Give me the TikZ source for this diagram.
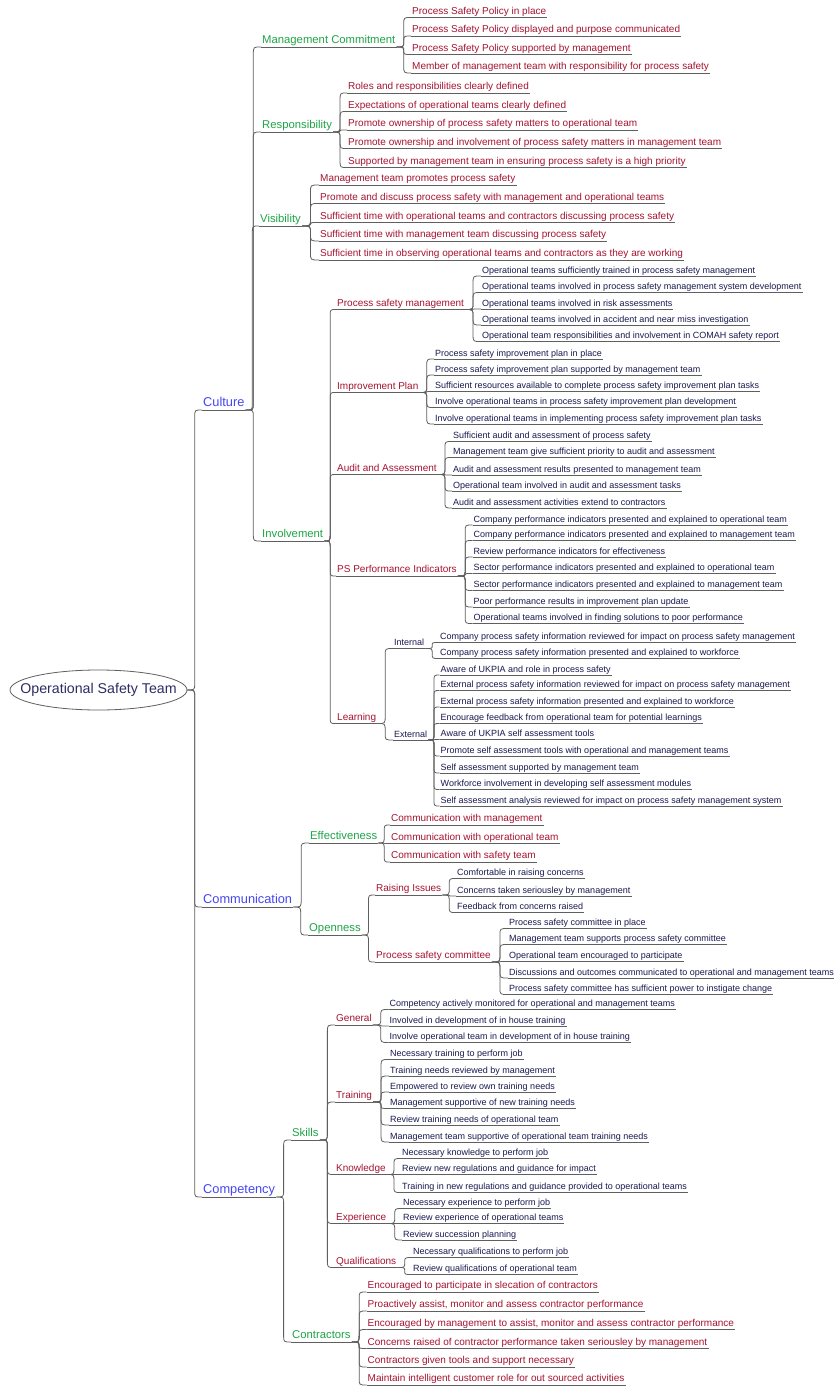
\documentclass[tikz,border=0pt]{standalone}
\usepackage{fontspec}
\setmainfont{Liberation Sans}
\usetikzlibrary{calc,shapes.geometric}
\definecolor{cRoot}{RGB}{45,45,100}
\definecolor{cOne}{RGB}{70,70,240}
\definecolor{cTwo}{RGB}{30,165,70}
\definecolor{cThree}{RGB}{165,20,50}
\definecolor{cFour}{RGB}{25,25,80}
\definecolor{cEdge}{RGB}{95,95,95}
\tikzset{
  edgeline/.style={draw=cEdge, line width=0.8pt},
  ulline/.style={draw=cEdge, line width=0.8pt},
  nbase/.style={anchor=south west, inner xsep=1pt, inner ysep=1pt},
  lone/.style={nbase, font=\fontsize{12.8pt}{15pt}\selectfont, text=cOne, text depth=2.6pt},
  ltwo/.style={nbase, font=\fontsize{11.3pt}{13pt}\selectfont, text=cTwo, text depth=2.3pt},
  lthree/.style={nbase, font=\fontsize{10pt}{12pt}\selectfont, text=cThree, text depth=2pt},
  lfour/.style={nbase, font=\fontsize{9pt}{11pt}\selectfont, text=cFour, text depth=1.8pt},
  rootnode/.style={ellipse, draw=cEdge, line width=0.8pt, minimum width=177pt, minimum height=40pt, inner xsep=-40pt, inner ysep=-10pt, font=\fontsize{14.2pt}{16pt}\selectfont, text=cRoot}
}
\newcommand\nd[4]{\node[#2] (#1) at (#3) {#4}; \draw[ulline] (#1.south west) -- (#1.south east);}
\newcommand\conn[3][south east]{%
  \draw[edgeline] let \p1=(#2.#1), \p2=(#3.south west),
     \n1={(\x1+\x2)/2}, \n2={min(7,abs(\y2-\y1)/2)*sign(\y2-\y1)} in
     (\p1) .. controls ({\n1*1pt},\y1) .. ({\n1*1pt},{\y1+\n2*1pt}) -- ({\n1*1pt},{\y2-\n2*1pt}) .. controls ({\n1*1pt},\y2) .. (\p2);}
\begin{document}
\begin{tikzpicture}[x=1pt,y=-1pt]
\useasboundingbox (0,0) rectangle (834,1388);
\fill[white] (0,0) rectangle (834,1388);
% root
\node[rootnode] (root) at (98.5,690) {Operational Safety Team};
% level 1
\nd{cul}{lone}{202,410}{Culture}
\nd{com}{lone}{202,907}{Communication}
\nd{cmp}{lone}{202,1197}{Competency}
% Culture
\nd{mgc}{ltwo}{261,47}{Management Commitment}
\nd{rsp}{ltwo}{261,132}{Responsibility}
\nd{vis}{ltwo}{259,226}{Visibility}
\nd{inv}{ltwo}{261,541}{Involvement}
\nd{mgcA}{lthree}{411,17.5}{Process Safety Policy in place}
\nd{mgcB}{lthree}{411,36}{Process Safety Policy displayed and purpose communicated}
\nd{mgcC}{lthree}{411,54.5}{Process Safety Policy supported by management}
\nd{mgcD}{lthree}{411,73}{Member of management team with responsibility for process safety}
\nd{rspA}{lthree}{347,93}{Roles and responsibilities clearly defined}
\nd{rspB}{lthree}{347,111.5}{Expectations of operational teams clearly defined}
\nd{rspC}{lthree}{347,130}{Promote ownership of process safety matters to operational team}
\nd{rspD}{lthree}{347,148.5}{Promote ownership and involvement of process safety matters in management team}
\nd{rspE}{lthree}{347,167.5}{Supported by management team in ensuring process safety is a high priority}
\nd{visA}{lthree}{319,185}{Management team promotes process safety}
\nd{visB}{lthree}{319,203.5}{Promote and discuss process safety with management and operational teams}
\nd{visC}{lthree}{319,222.5}{Sufficient time with operational teams and contractors discussing process safety}
\nd{visD}{lthree}{319,241}{Sufficient time with management team discussing process safety}
\nd{visE}{lthree}{319,260}{Sufficient time in observing operational teams and contractors as they are working}
% Involvement
\nd{psm}{lthree}{336,309.5}{Process safety management}
\nd{imp}{lthree}{336,392.5}{Improvement Plan}
\nd{aud}{lthree}{336,474.5}{Audit and Assessment}
\nd{ppi}{lthree}{336,576}{PS Performance Indicators}
\nd{lrn}{lthree}{336,723.5}{Learning}
\nd{psmA}{lfour}{481,276}{Operational teams sufficiently trained in process safety management}
\nd{psmB}{lfour}{481,292.5}{Operational teams involved in process safety management system development}
\nd{psmC}{lfour}{481,309}{Operational teams involved in risk assessments}
\nd{psmD}{lfour}{481,325}{Operational teams involved in accident and near miss investigation}
\nd{psmE}{lfour}{481,341.5}{Operational team responsibilities and involvement in COMAH safety report}
\nd{impA}{lfour}{434,359}{Process safety improvement plan in place}
\nd{impB}{lfour}{434,375}{Process safety improvement plan supported by management team}
\nd{impC}{lfour}{434,391.5}{Sufficient resources available to complete process safety improvement plan tasks}
\nd{impD}{lfour}{434,407.5}{Involve operational teams in process safety improvement plan development}
\nd{impE}{lfour}{434,424}{Involve operational teams in implementing process safety improvement plan tasks}
\nd{audA}{lfour}{452,441.5}{Sufficient audit and assessment of process safety}
\nd{audB}{lfour}{452,457.5}{Management team give sufficient priority to audit and assessment}
\nd{audC}{lfour}{452,475}{Audit and assessment results presented to management team}
\nd{audD}{lfour}{452,491}{Operational team involved in audit and assessment tasks}
\nd{audE}{lfour}{452,508}{Audit and assessment activities extend to contractors}
\nd{ppiA}{lfour}{472.5,525}{Company performance indicators presented and explained to operational team}
\nd{ppiB}{lfour}{472.5,540.5}{Company performance indicators presented and explained to management team}
\nd{ppiC}{lfour}{472.5,557}{Review performance indicators for effectiveness}
\nd{ppiD}{lfour}{472.5,573.5}{Sector performance indicators presented and explained to operational team}
\nd{ppiE}{lfour}{472.5,590.5}{Sector performance indicators presented and explained to management team}
\nd{ppiF}{lfour}{472.5,607}{Poor performance results in improvement plan update}
\nd{ppiG}{lfour}{472.5,623.5}{Operational teams involved in finding solutions to poor performance}
\nd{int}{lfour}{393,648.5}{Internal}
\nd{ext}{lfour}{393,740}{External}
\nd{intA}{lfour}{439,642.5}{Company process safety information reviewed for impact on process safety management}
\nd{intB}{lfour}{439,658.5}{Company process safety information presented and explained to workforce}
\nd{extA}{lfour}{439.5,675}{Aware of UKPIA and role in process safety}
\nd{extB}{lfour}{439.5,690.5}{External process safety information reviewed for impact on process safety management}
\nd{extC}{lfour}{439.5,707}{External process safety information presented and explained to workforce}
\nd{extD}{lfour}{439.5,723.5}{Encourage feedback from operational team for potential learnings}
\nd{extE}{lfour}{439.5,739.5}{Aware of UKPIA self assessment tools}
\nd{extF}{lfour}{439.5,756}{Promote self assessment tools with operational and management teams}
\nd{extG}{lfour}{439.5,773}{Self assessment supported by management team}
\nd{extH}{lfour}{439.5,789.5}{Workforce involvement in developing self assessment modules}
\nd{extI}{lfour}{439.5,806}{Self assessment analysis reviewed for impact on process safety management system}
% Communication
\nd{eff}{ltwo}{309,843}{Effectiveness}
\nd{opn}{ltwo}{308,935}{Openness}
\nd{effA}{lthree}{390,825}{Communication with management}
\nd{effB}{lthree}{390,843.5}{Communication with operational team}
\nd{effC}{lthree}{390,862}{Communication with safety team}
\nd{rai}{lthree}{375,895}{Raising Issues}
\nd{psc}{lthree}{375,962}{Process safety committee}
\nd{raiA}{lfour}{456,878.5}{Comfortable in raising concerns}
\nd{raiB}{lfour}{456,896}{Concerns taken seriousley by management}
\nd{raiC}{lfour}{456,912.5}{Feedback from concerns raised}
\nd{pscA}{lfour}{508,928.5}{Process safety committee in place}
\nd{pscB}{lfour}{508,944.5}{Management team supports process safety committee}
\nd{pscC}{lfour}{508,961.5}{Operational team encouraged to participate}
\nd{pscD}{lfour}{508,978}{Discussions and outcomes communicated to operational and management teams}
\nd{pscE}{lfour}{508,994.5}{Process safety committee has sufficient power to instigate change}
% Competency
\nd{skl}{ltwo}{291,1140}{Skills}
\nd{ctr}{ltwo}{291,1342}{Contractors}
\nd{gen}{lthree}{335,1025}{General}
\nd{trn}{lthree}{335,1102}{Training}
\nd{knw}{lthree}{335,1174.5}{Knowledge}
\nd{exp}{lthree}{335,1223.5}{Experience}
\nd{qua}{lthree}{335,1267.5}{Qualifications}
\nd{genA}{lfour}{388.5,1009.5}{Competency actively monitored for operational and management teams}
\nd{genB}{lfour}{388.5,1026}{Involved in development of in house training}
\nd{genC}{lfour}{388.5,1042.5}{Involve operational team in development of in house training}
\nd{trnA}{lfour}{389,1059.5}{Necessary training to perform job}
\nd{trnB}{lfour}{389,1076}{Training needs reviewed by management}
\nd{trnC}{lfour}{389,1092}{Empowered to review own training needs}
\nd{trnD}{lfour}{389,1108.5}{Management supportive of new training needs}
\nd{trnE}{lfour}{389,1125}{Review training needs of operational team}
\nd{trnF}{lfour}{389,1142}{Management team supportive of operational team training needs}
\nd{knwA}{lfour}{401,1158.5}{Necessary knowledge to perform job}
\nd{knwB}{lfour}{401,1174.5}{Review new regulations and guidance for impact}
\nd{knwC}{lfour}{401,1192.5}{Training in new regulations and guidance provided to operational teams}
\nd{expA}{lfour}{402,1208.5}{Necessary experience to perform job}
\nd{expB}{lfour}{402,1223.5}{Review experience of operational teams}
\nd{expC}{lfour}{402,1240}{Review succession planning}
\nd{quaA}{lfour}{412,1257.5}{Necessary qualifications to perform job}
\nd{quaB}{lfour}{412,1274.5}{Review qualifications of operational team}
\nd{ctrA}{lthree}{366.5,1292}{Encouraged to participate in slecation of contractors}
\nd{ctrB}{lthree}{366.5,1311}{Proactively assist, monitor and assess contractor performance}
\nd{ctrC}{lthree}{366.5,1329.5}{Encouraged by management to assist, monitor and assess contractor performance}
\nd{ctrD}{lthree}{366.5,1348.5}{Concerns raised of contractor performance taken seriousley by management}
\nd{ctrE}{lthree}{366.5,1367}{Contractors given tools and support necessary}
\nd{ctrF}{lthree}{366.5,1385}{Maintain intelligent customer role for out sourced activities}
% connectors
\foreach \c in {cul,com,cmp} {\conn[east]{root}{\c}}
\foreach \c in {mgc,rsp,vis,inv} {\conn{cul}{\c}}
\foreach \c in {mgcA,mgcB,mgcC,mgcD} {\conn{mgc}{\c}}
\foreach \c in {rspA,rspB,rspC,rspD,rspE} {\conn{rsp}{\c}}
\foreach \c in {visA,visB,visC,visD,visE} {\conn{vis}{\c}}
\foreach \c in {psm,imp,aud,ppi,lrn} {\conn{inv}{\c}}
\foreach \c in {psmA,psmB,psmC,psmD,psmE} {\conn{psm}{\c}}
\foreach \c in {impA,impB,impC,impD,impE} {\conn{imp}{\c}}
\foreach \c in {audA,audB,audC,audD,audE} {\conn{aud}{\c}}
\foreach \c in {ppiA,ppiB,ppiC,ppiD,ppiE,ppiF,ppiG} {\conn{ppi}{\c}}
\foreach \c in {int,ext} {\conn{lrn}{\c}}
\foreach \c in {intA,intB} {\conn{int}{\c}}
\foreach \c in {extA,extB,extC,extD,extE,extF,extG,extH,extI} {\conn{ext}{\c}}
\foreach \c in {eff,opn} {\conn{com}{\c}}
\foreach \c in {effA,effB,effC} {\conn{eff}{\c}}
\foreach \c in {rai,psc} {\conn{opn}{\c}}
\foreach \c in {raiA,raiB,raiC} {\conn{rai}{\c}}
\foreach \c in {pscA,pscB,pscC,pscD,pscE} {\conn{psc}{\c}}
\foreach \c in {skl,ctr} {\conn{cmp}{\c}}
\foreach \c in {gen,trn,knw,exp,qua} {\conn{skl}{\c}}
\foreach \c in {genA,genB,genC} {\conn{gen}{\c}}
\foreach \c in {trnA,trnB,trnC,trnD,trnE,trnF} {\conn{trn}{\c}}
\foreach \c in {knwA,knwB,knwC} {\conn{knw}{\c}}
\foreach \c in {expA,expB,expC} {\conn{exp}{\c}}
\foreach \c in {quaA,quaB} {\conn{qua}{\c}}
\foreach \c in {ctrA,ctrB,ctrC,ctrD,ctrE,ctrF} {\conn{ctr}{\c}}
\end{tikzpicture}
\end{document}
